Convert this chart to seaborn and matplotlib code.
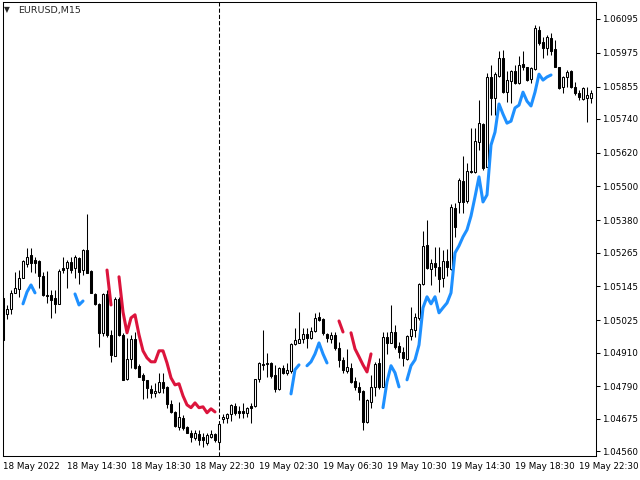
import numpy as np
import pandas as pd
import matplotlib
matplotlib.use('Agg')
import matplotlib.pyplot as plt
import seaborn as sns

sns.set_style("white")
plt.rcParams['font.family'] = ['DejaVu Sans']

BLUE = '#1E90FF'
RED = '#DC143C'
nan = float('nan')

# ── EURUSD M15 bars, 18 May 10:30 -> 19 May 23:15 ────────────────
open_ = [1.05104, 1.05047, 1.05065, 1.05122, 1.05136, 1.05175, 1.05225, 1.05257, 1.05239, 1.05235,
         1.05182, 1.05115, 1.05115, 1.05104, 1.05083, 1.05211, 1.05211, 1.05232, 1.05211, 1.05246,
         1.05203, 1.05275, 1.05200, 1.05118, 1.05083, 1.04980, 1.05118, 1.04973, 1.04898, 1.05101,
         1.04973, 1.04817, 1.04888, 1.04959, 1.04863, 1.04831, 1.04813, 1.04781, 1.04767, 1.04770,
         1.04806, 1.04788, 1.04728, 1.04699, 1.04646, 1.04678, 1.04646, 1.04625, 1.04607, 1.04621,
         1.04611, 1.04589, 1.04611, 1.04621, 1.04593, 1.04675, 1.04678, 1.04692, 1.04721, 1.04703,
         1.04703, 1.04696, 1.04721, 1.04721, 1.04817, 1.04870, 1.04870, 1.04873, 1.04831, 1.04781,
         1.04856, 1.04838, 1.04845, 1.04941, 1.04944, 1.04959, 1.04976, 1.04962, 1.04987, 1.05037,
         1.05030, 1.04976, 1.04959, 1.04973, 1.04927, 1.04884, 1.04845, 1.04856, 1.04809, 1.04788,
         1.04774, 1.04664, 1.04735, 1.04788, 1.04873, 1.04788, 1.04966, 1.04944, 1.04983, 1.04934,
         1.04912, 1.04888, 1.04969, 1.04991, 1.05033, 1.05154, 1.05292, 1.05207, 1.05228, 1.05214,
         1.05175, 1.05235, 1.05207, 1.05424, 1.05445, 1.05519, 1.05448, 1.05555, 1.05551, 1.05658,
         1.05722, 1.05569, 1.05889, 1.05814, 1.05892, 1.05956, 1.05835, 1.05874, 1.05910, 1.05867,
         1.05935, 1.05924, 1.05882, 1.05917, 1.06056, 1.06013, 1.05992, 1.06027, 1.05988, 1.05924,
         1.05853, 1.05889, 1.05910, 1.05853, 1.05832, 1.05811, 1.05814, 1.05814]
close = [1.04955, 1.05065, 1.05122, 1.05140, 1.05175, 1.05235, 1.05250, 1.05228, 1.05228, 1.05182,
         1.05115, 1.05111, 1.05097, 1.05083, 1.05200, 1.05203, 1.05232, 1.05203, 1.05250, 1.05196,
         1.05275, 1.05193, 1.05122, 1.05083, 1.04980, 1.05118, 1.04973, 1.04902, 1.05101, 1.04973,
         1.04813, 1.04888, 1.04959, 1.04856, 1.04824, 1.04813, 1.04785, 1.04767, 1.04774, 1.04806,
         1.04785, 1.04728, 1.04699, 1.04650, 1.04682, 1.04643, 1.04625, 1.04611, 1.04625, 1.04600,
         1.04600, 1.04618, 1.04621, 1.04600, 1.04657, 1.04682, 1.04692, 1.04724, 1.04696, 1.04696,
         1.04696, 1.04714, 1.04714, 1.04817, 1.04873, 1.04866, 1.04873, 1.04827, 1.04781, 1.04856,
         1.04838, 1.04849, 1.04941, 1.04955, 1.04959, 1.04976, 1.04962, 1.04987, 1.05033, 1.05026,
         1.04980, 1.04962, 1.04973, 1.04927, 1.04884, 1.04849, 1.04859, 1.04806, 1.04788, 1.04770,
         1.04664, 1.04742, 1.04788, 1.04870, 1.04788, 1.04966, 1.04944, 1.04983, 1.04930, 1.04912,
         1.04891, 1.04969, 1.04994, 1.05037, 1.05154, 1.05289, 1.05211, 1.05228, 1.05214, 1.05172,
         1.05235, 1.05214, 1.05427, 1.05356, 1.05523, 1.05445, 1.05555, 1.05551, 1.05661, 1.05725,
         1.05566, 1.05889, 1.05814, 1.05899, 1.05956, 1.05835, 1.05878, 1.05910, 1.05867, 1.05931,
         1.05924, 1.05878, 1.05921, 1.06063, 1.06009, 1.05992, 1.06031, 1.05981, 1.05924, 1.05850,
         1.05889, 1.05906, 1.05853, 1.05832, 1.05818, 1.05850, 1.05825, 1.05832]
high = [1.05125, 1.05079, 1.05132, 1.05196, 1.05203, 1.05239, 1.05282, 1.05282, 1.05250, 1.05239,
        1.05196, 1.05200, 1.05132, 1.05132, 1.05207, 1.05250, 1.05239, 1.05250, 1.05257, 1.05250,
        1.05278, 1.05402, 1.05203, 1.05122, 1.05086, 1.05122, 1.05132, 1.04991, 1.05108, 1.05108,
        1.04980, 1.04962, 1.04973, 1.04983, 1.04870, 1.04838, 1.04813, 1.04795, 1.04802, 1.04838,
        1.04838, 1.04792, 1.04742, 1.04703, 1.04735, 1.04689, 1.04650, 1.04636, 1.04636, 1.04636,
        1.04625, 1.04625, 1.04636, 1.04625, 1.04660, 1.04692, 1.04696, 1.04728, 1.04731, 1.04721,
        1.04731, 1.04717, 1.04731, 1.04817, 1.04877, 1.04991, 1.04909, 1.04877, 1.04866, 1.04859,
        1.04866, 1.04873, 1.04944, 1.04998, 1.05054, 1.04998, 1.04998, 1.05001, 1.05051, 1.05054,
        1.05033, 1.04980, 1.04983, 1.04983, 1.04948, 1.04895, 1.04923, 1.04873, 1.04824, 1.04806,
        1.04778, 1.04746, 1.04831, 1.04877, 1.04891, 1.04983, 1.04983, 1.05079, 1.05008, 1.04948,
        1.04930, 1.04973, 1.05072, 1.05051, 1.05157, 1.05342, 1.05381, 1.05243, 1.05285, 1.05285,
        1.05275, 1.05278, 1.05438, 1.05441, 1.05530, 1.05608, 1.05583, 1.05708, 1.05708, 1.05807,
        1.05725, 1.05903, 1.05931, 1.05906, 1.05981, 1.05985, 1.05910, 1.05914, 1.05931, 1.05963,
        1.05981, 1.05924, 1.05924, 1.06073, 1.06070, 1.06031, 1.06038, 1.06045, 1.06020, 1.05924,
        1.05892, 1.05914, 1.05914, 1.05871, 1.05843, 1.05853, 1.05853, 1.05843]
low = [1.04930, 1.05030, 1.05047, 1.05122, 1.05108, 1.05175, 1.05214, 1.05196, 1.05193, 1.05140,
       1.05111, 1.05086, 1.05033, 1.05051, 1.05083, 1.05193, 1.05140, 1.05193, 1.05175, 1.05154,
       1.05186, 1.05193, 1.05122, 1.05079, 1.04930, 1.04969, 1.04966, 1.04877, 1.04898, 1.04969,
       1.04813, 1.04813, 1.04856, 1.04852, 1.04824, 1.04746, 1.04749, 1.04749, 1.04753, 1.04767,
       1.04767, 1.04714, 1.04696, 1.04646, 1.04636, 1.04636, 1.04625, 1.04593, 1.04600, 1.04582,
       1.04575, 1.04582, 1.04607, 1.04593, 1.04572, 1.04660, 1.04660, 1.04667, 1.04689, 1.04678,
       1.04678, 1.04682, 1.04660, 1.04717, 1.04806, 1.04849, 1.04824, 1.04820, 1.04770, 1.04778,
       1.04834, 1.04831, 1.04838, 1.04937, 1.04944, 1.04944, 1.04927, 1.04959, 1.04983, 1.05022,
       1.04973, 1.04948, 1.04944, 1.04920, 1.04859, 1.04838, 1.04838, 1.04802, 1.04778, 1.04742,
       1.04636, 1.04660, 1.04714, 1.04756, 1.04781, 1.04788, 1.04905, 1.04944, 1.04923, 1.04891,
       1.04863, 1.04884, 1.04955, 1.04966, 1.05026, 1.05150, 1.05207, 1.05150, 1.05182, 1.05125,
       1.05143, 1.05182, 1.05203, 1.05321, 1.05406, 1.05406, 1.05441, 1.05548, 1.05548, 1.05630,
       1.05559, 1.05569, 1.05754, 1.05754, 1.05889, 1.05832, 1.05800, 1.05796, 1.05864, 1.05864,
       1.05914, 1.05874, 1.05867, 1.05914, 1.06002, 1.05956, 1.05967, 1.05967, 1.05924, 1.05846,
       1.05832, 1.05853, 1.05850, 1.05825, 1.05807, 1.05807, 1.05729, 1.05796]

# indicator: blue = up trend, red = down trend (gaps where not drawn)
blue_line = ([nan] * 5 + [1.05083, 1.05125, 1.05150, 1.05122] + [nan] * 9
             + [1.05118, 1.05079, 1.05093] + [nan] * 51
             + [1.04763, 1.04849, 1.04866] + [nan]
             + [1.04863, 1.04877, 1.04905, 1.04944, 1.04905, 1.04873] + [nan] * 13
             + [1.04714, 1.04806, 1.04863, 1.04838, 1.04788] + [nan]
             + [1.04813, 1.04863, 1.04884, 1.04937, 1.05069, 1.05108, 1.05083, 1.05108,
                1.05051, 1.05069, 1.05086, 1.05122, 1.05264, 1.05289, 1.05321, 1.05346,
                1.05395, 1.05463, 1.05534, 1.05445, 1.05470, 1.05647, 1.05693, 1.05793,
                1.05757, 1.05725, 1.05732, 1.05779, 1.05789, 1.05835, 1.05803, 1.05786,
                1.05835, 1.05899, 1.05878, 1.05889, 1.05896] + [nan] * 10)
red_line = ([nan] * 26 + [1.05203, 1.05079] + [nan]
            + [1.05179, 1.05054, 1.04980, 1.05033, 1.05044, 1.04973, 1.04916, 1.04891,
               1.04877, 1.04877, 1.04916, 1.04916, 1.04873, 1.04820, 1.04795, 1.04799,
               1.04756, 1.04724, 1.04714, 1.04731, 1.04714, 1.04717, 1.04696, 1.04710,
               1.04699] + [nan] * 30
            + [1.05022, 1.04983] + [nan]
            + [1.04980, 1.04923, 1.04895, 1.04866, 1.04841, 1.04905] + [nan] * 55)

tick_times = ['2022-05-18 10:30', '2022-05-18 14:30', '2022-05-18 18:30', '2022-05-18 22:30',
              '2022-05-19 02:30', '2022-05-19 06:30', '2022-05-19 10:30', '2022-05-19 14:30',
              '2022-05-19 18:30', '2022-05-19 22:30']
tick_labels = ['18 May 2022', '18 May 14:30', '18 May 18:30', '18 May 22:30', '19 May 02:30',
               '19 May 06:30', '19 May 10:30', '19 May 14:30', '19 May 18:30', '19 May 22:30']
price_ticks = ['1.06095', '1.05975', '1.05855', '1.05740', '1.05620', '1.05500', '1.05380',
               '1.05265', '1.05145', '1.05025', '1.04910', '1.04790', '1.04675', '1.04560']
separator = '2022-05-19 00:00'

df = pd.DataFrame({'time': pd.date_range('2022-05-18 10:30', periods=len(close), freq='15min'),
                   'open': open_, 'high': high, 'low': low, 'close': close,
                   'blue': blue_line, 'red': red_line})
df['bar'] = np.arange(len(df))
bull = df['close'] >= df['open']
bar_of = {t: i for i, t in enumerate(df['time'])}

fig = plt.figure(figsize=(6.4, 4.8), dpi=100)
fig.patch.set_facecolor('white')
ax = fig.add_axes([2.5 / 640, 24 / 480, 593.5 / 640, 454 / 480])
ax.set_facecolor('white')

# candles
ax.vlines(df['bar'], df['low'], df['high'], color='black', lw=0.75, zorder=1)
ax.bar(df['bar'], (df['close'] - df['open']).abs(), bottom=df[['open', 'close']].min(axis=1),
       width=0.6, color=np.where(bull, 'white', 'black'), edgecolor='black',
       linewidth=0.75, zorder=2)

# trend line segments
for col, colour in [('blue', BLUE), ('red', RED)]:
    seg = df[col].isna().cumsum()
    for _, g in df[df[col].notna()].groupby(seg[df[col].notna()]):
        sns.lineplot(data=g, x='bar', y=col, ax=ax, color=colour, linewidth=2.2,
                     estimator=None, sort=False, legend=False, zorder=3)

# day separator
ax.axvline(bar_of[pd.Timestamp(separator)], color='black', lw=0.75, ls=(0, (4, 2)), zorder=0)

ax.set_xlim(-0.125, 148.25)
ax.set_ylim(1.045423, 1.061554)

ax.yaxis.tick_right()
ax.set_yticks([float(p) for p in price_ticks])
ax.set_yticklabels(price_ticks)
ax.set_xticks([bar_of[pd.Timestamp(t)] for t in tick_times])
ax.set_xticklabels(tick_labels, ha='left')
ax.tick_params(axis='both', direction='out', length=3, width=0.75, pad=1.5,
               labelsize=6.3, colors='black')
ax.set_xlabel('')
ax.set_ylabel('')
for spine in ax.spines.values():
    spine.set_edgecolor('black')
    spine.set_linewidth(0.75)

fig.text(6.5 / 640, 1 - 10 / 480, '▼', fontsize=5.5, ha='center', va='center')
fig.text(18 / 640, 1 - 10 / 480, 'EURUSD,M15', fontsize=6.8, ha='left', va='center')

fig.savefig('out.png', dpi=100, facecolor='white')
